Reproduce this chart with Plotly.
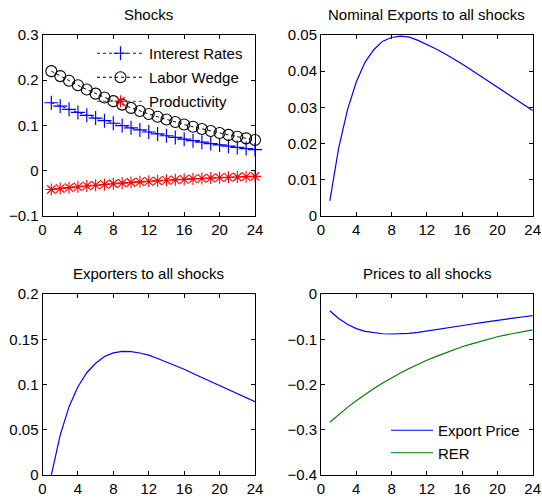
import plotly.graph_objects as go

# Horizon (quarters)
periods = list(range(1, 25))

# Shock processes
interest_rates = [0.150, 0.1425, 0.1354, 0.1286, 0.1222, 0.1161, 0.1103, 0.1047,
                  0.0995, 0.0945, 0.0898, 0.0853, 0.0811, 0.0770, 0.0732, 0.0695,
                  0.0660, 0.0627, 0.0596, 0.0566, 0.0538, 0.0511, 0.0485, 0.0461]
labor_wedge = [0.220, 0.209, 0.1986, 0.1886, 0.1792, 0.1702, 0.1617, 0.1536,
               0.1459, 0.1386, 0.1317, 0.1251, 0.1189, 0.1129, 0.1073, 0.1019,
               0.0968, 0.0920, 0.0874, 0.0830, 0.0789, 0.0749, 0.0712, 0.0676]
productivity = [-0.042, -0.0399, -0.0379, -0.0360, -0.0342, -0.0325, -0.0309, -0.0293,
                -0.0279, -0.0265, -0.0251, -0.0239, -0.0227, -0.0216, -0.0205, -0.0195,
                -0.0185, -0.0176, -0.0167, -0.0159, -0.0151, -0.0143, -0.0136, -0.0129]

# Responses to all shocks
nominal_exports = [0.0041, 0.0187, 0.0293, 0.0370, 0.0425, 0.0460, 0.0483, 0.0493,
                   0.0497, 0.0494, 0.0485, 0.0474, 0.0462, 0.0449, 0.0435, 0.0420,
                   0.0404, 0.0388, 0.0371, 0.0355, 0.0339, 0.0322, 0.0306, 0.0291]
exporters = [0.0, 0.044, 0.0755, 0.0975, 0.113, 0.1235, 0.131, 0.135,
             0.1365, 0.1363, 0.1348, 0.1325, 0.1288, 0.1250, 0.1210, 0.1168,
             0.1122, 0.1077, 0.1032, 0.0987, 0.0942, 0.0897, 0.0853, 0.081]
export_price = [-0.037, -0.054, -0.067, -0.0765, -0.0825, -0.086, -0.0878, -0.0884,
                -0.0882, -0.0870, -0.0847, -0.0820, -0.0791, -0.0761, -0.0731, -0.0700,
                -0.0668, -0.0637, -0.0606, -0.0576, -0.0551, -0.0527, -0.0503, -0.0480]
rer = [-0.2836, -0.2665, -0.2505, -0.2357, -0.2218, -0.2089, -0.1966, -0.1852,
       -0.1745, -0.1645, -0.1551, -0.1463, -0.1383, -0.1307, -0.1234, -0.1166,
       -0.1107, -0.1050, -0.0995, -0.0944, -0.0902, -0.0862, -0.0826, -0.0793]

x_ticks = [0, 4, 8, 12, 16, 20, 24]
panel_titles = ["Shocks", "Nominal Exports to all shocks",
                "Exporters to all shocks", "Prices to all shocks"]

W, H = 542, 504
FONT = "Liberation Sans, Arial, sans-serif"

# panel boxes in pixels: (left, right, top, bottom)
boxes = [(42.5, 255, 35, 215.7), (321, 532.7, 35, 215.7),
         (42.5, 255, 294, 475), (321, 532.7, 294, 475)]
y_ranges = [[-0.1, 0.3], [0, 0.05], [0, 0.2], [-0.4, 0]]
y_dticks = [0.1, 0.01, 0.05, 0.1]

fig = go.Figure()

# Shocks panel
fig.add_trace(go.Scatter(x=periods, y=interest_rates, name="Interest Rates",
                         mode="lines+markers", cliponaxis=False, legendgroup="ir",
                         line=dict(color="#0000FF", width=1, dash="dot"),
                         marker=dict(symbol="cross-thin-open", size=10,
                                     line=dict(color="#0000FF", width=1.2)),
                         xaxis="x", yaxis="y"))
fig.add_trace(go.Scatter(x=periods, y=labor_wedge, name="Labor Wedge",
                         mode="lines+markers", cliponaxis=False, legendgroup="lw",
                         line=dict(color="#000000", width=1, dash="dot"),
                         marker=dict(symbol="circle-open", size=11, color="#000000",
                                     line=dict(color="#000000", width=1.1)),
                         xaxis="x", yaxis="y"))
fig.add_trace(go.Scatter(x=periods, y=productivity, name="Productivity",
                         mode="lines+markers", cliponaxis=False, legendgroup="pr",
                         line=dict(color="#FF0000", width=1, dash="dot"),
                         marker=dict(symbol="asterisk-open", size=10,
                                     line=dict(color="#FF0000", width=1.1)),
                         xaxis="x", yaxis="y"))

# Nominal exports
fig.add_trace(go.Scatter(x=periods, y=nominal_exports, mode="lines", showlegend=False,
                         line=dict(color="#0000FF", width=1.2),
                         xaxis="x2", yaxis="y2"))
# Exporters
fig.add_trace(go.Scatter(x=periods, y=exporters, mode="lines", showlegend=False,
                         line=dict(color="#0000FF", width=1.2),
                         xaxis="x3", yaxis="y3"))
# Prices
fig.add_trace(go.Scatter(x=periods, y=export_price, name="Export Price", mode="lines",
                         line=dict(color="#0000FF", width=1.2), legend="legend2",
                         xaxis="x4", yaxis="y4"))
fig.add_trace(go.Scatter(x=periods, y=rer, name="RER", mode="lines",
                         line=dict(color="#008000", width=1.2), legend="legend2",
                         xaxis="x4", yaxis="y4"))

axis_common = dict(showline=True, linecolor="black", linewidth=1, mirror="allticks",
                   ticks="inside", ticklen=4, tickcolor="black", tickwidth=1,
                   showgrid=False, zeroline=False, automargin=False,
                   tickfont=dict(family=FONT, size=15, color="black"))

layout = dict(width=W, height=H, margin=dict(l=0, r=0, t=0, b=0, pad=0),
              autosize=False, paper_bgcolor="white", plot_bgcolor="white",
              font=dict(family=FONT, size=15, color="black"))

annotations = []
for i, (l, r, t, b) in enumerate(boxes):
    sfx = "" if i == 0 else str(i + 1)
    layout["xaxis" + sfx] = dict(axis_common, domain=[l / W, r / W], range=[0, 24],
                                 tickvals=x_ticks, anchor="y" + sfx)
    layout["yaxis" + sfx] = dict(axis_common, domain=[1 - b / H, 1 - t / H],
                                 range=y_ranges[i], dtick=y_dticks[i],
                                 tick0=0, anchor="x" + sfx)
    annotations.append(dict(text=panel_titles[i], xref="paper", yref="paper",
                            x=(l + r) / 2 / W, y=1 - (t - 21) / H,
                            xanchor="center", yanchor="middle", showarrow=False,
                            font=dict(family=FONT, size=15, color="black")))

layout["annotations"] = annotations
layout["legend"] = dict(x=92 / W, y=1 - 37 / H, xanchor="left", yanchor="top",
                        bgcolor="rgba(0,0,0,0)", font=dict(family=FONT, size=15),
                        itemwidth=47, tracegroupgap=1.5)
layout["legend2"] = dict(x=386 / W, y=1 - 414 / H, xanchor="left", yanchor="top",
                         bgcolor="rgba(0,0,0,0)", font=dict(family=FONT, size=15),
                         itemwidth=42)

fig.update_layout(**layout)
fig.write_html("out.html")
